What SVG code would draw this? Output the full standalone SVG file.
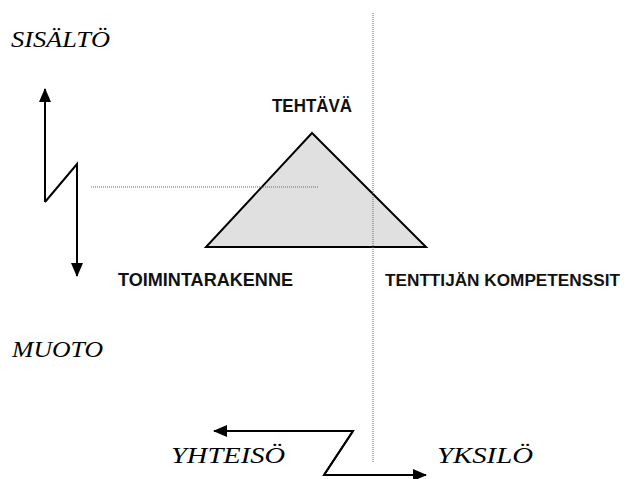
<svg xmlns="http://www.w3.org/2000/svg" width="631" height="479" viewBox="0 0 631 479">
<style>
.lbl{font-family:"Liberation Sans",Arial,sans-serif;font-weight:bold;font-size:18px;fill:#111}
.it{font-family:"Liberation Serif","Times New Roman",serif;font-style:italic;font-size:24px;fill:#000}
.arr{fill:none;stroke:#000;stroke-width:2}
.dot{fill:none;stroke:#666;stroke-width:1;stroke-dasharray:1 1}
</style>
<defs>
<marker id="ah" viewBox="0 0 14 12" refX="13" refY="6" markerWidth="14" markerHeight="12" markerUnits="userSpaceOnUse" orient="auto">
<path d="M0,0 L14,6 L0,12 Z" fill="#000"/>
</marker>
</defs>
<g id="texts">
<text class="it" x="11" y="47" textLength="99" lengthAdjust="spacingAndGlyphs">SISÄLTÖ</text>
<text class="it" x="12" y="357" textLength="91" lengthAdjust="spacingAndGlyphs">MUOTO</text>
<text class="it" x="171" y="463" textLength="114" lengthAdjust="spacingAndGlyphs">YHTEISÖ</text>
<text class="it" x="437" y="463" textLength="96" lengthAdjust="spacingAndGlyphs">YKSILÖ</text>
</g>
<g id="tehtava">
<polygon points="312,133 206,247 426,247" fill="#e0e0e0" stroke="#000" stroke-width="2" stroke-linejoin="miter"/>
<text class="lbl" x="272" y="112" textLength="80" lengthAdjust="spacingAndGlyphs">TEHTÄVÄ</text>
</g>
<g id="toimintarakenne">
<text class="lbl" x="118" y="286" textLength="175" lengthAdjust="spacingAndGlyphs">TOIMINTARAKENNE</text>
</g>
<g id="kompetenssit">
<text class="lbl" x="385" y="286" style="font-size:17.2px">TENTTIJÄN KOMPETENSSIT</text>
</g>
<g id="connectors">
<line class="dot" x1="373" y1="13" x2="373" y2="462"/>
<line class="dot" x1="91" y1="187" x2="319" y2="187"/>
<polyline class="arr" points="45,202 45,89" marker-end="url(#ah)"/>
<polyline class="arr" points="45,202 77,164 77,276" marker-end="url(#ah)"/>
<polyline class="arr" points="324,475 353,431 214,431" marker-end="url(#ah)"/>
<polyline class="arr" points="353,431 324,475 426,475" marker-end="url(#ah)"/>
</g>
</svg>
